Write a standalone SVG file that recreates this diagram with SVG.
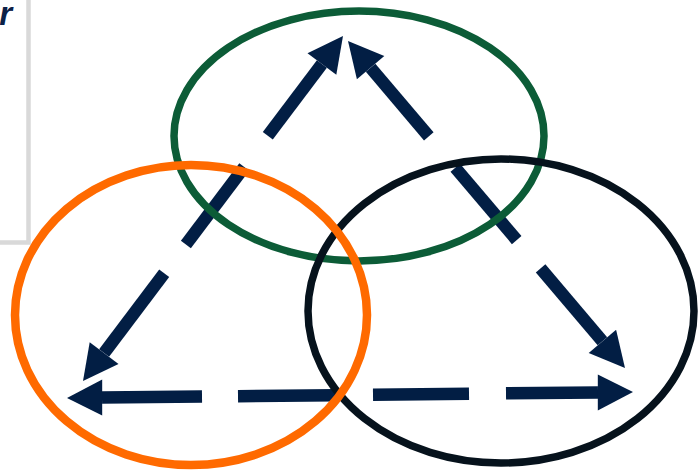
<svg xmlns="http://www.w3.org/2000/svg" width="698" height="471" viewBox="0 0 698 471">
  <style>
    .dash { stroke: #021e44; stroke-width: 12.5; stroke-linecap: butt; fill: none; }
    .head { fill: #021e44; stroke: none; }
    .ring { fill: none; }
    .lbl { font-family: "Liberation Sans", Arial, sans-serif; font-size: 33px; font-weight: bold; font-style: italic; fill: #0b2147; }
  </style>
  <rect width="698" height="471" fill="#ffffff"/>

  <g id="textbox">
    <rect x="-10" y="-10" width="38.5" height="252.5" fill="none" stroke="#d9d9d9" stroke-width="4.5"/>
    <text class="lbl" x="12" y="25" text-anchor="end">r</text>
  </g>

  <g id="connectors">
    <!-- left side (double-headed, dashed) -->
    <line class="dash" x1="321.9" y1="64" x2="267.8" y2="135.8"/>
    <line class="dash" x1="244.3" y1="167" x2="185.9" y2="244.4"/>
    <line class="dash" x1="164.2" y1="273.2" x2="104.1" y2="353.1"/>
    <polygon class="head" points="343,36 336.3,74.8 307.5,53.2"/>
    <polygon class="head" points="83,381 118.5,363.9 89.7,342.3"/>

    <!-- right side (double-headed, dashed) -->
    <line class="dash" x1="370.6" y1="67.7" x2="428.8" y2="136.4"/>
    <line class="dash" x1="455.3" y1="167.7" x2="516.7" y2="240.1"/>
    <line class="dash" x1="540.6" y1="268.4" x2="602.4" y2="341.3"/>
    <polygon class="head" points="348,41 384.3,56.1 356.9,79.3"/>
    <polygon class="head" points="625,368 616.1,329.7 588.7,352.9"/>

    <!-- bottom (double-headed, dashed) -->
    <line class="dash" x1="102" y1="397.6" x2="202" y2="396.6"/>
    <line class="dash" x1="238" y1="396.2" x2="335" y2="395.2"/>
    <line class="dash" x1="373" y1="394.8" x2="469" y2="393.7"/>
    <line class="dash" x1="506" y1="393.3" x2="598" y2="392.4"/>
    <polygon class="head" points="67,398 102.2,379.6 102.2,415.6"/>
    <polygon class="head" points="633,392 597.8,374.4 597.8,410.4"/>
  </g>

  <g id="green-ellipse">
    <ellipse class="ring" cx="359" cy="136" rx="185" ry="125" stroke="#0c5c37" stroke-width="7.5"/>
  </g>
  <g id="black-ellipse">
    <ellipse class="ring" cx="501" cy="311" rx="193" ry="152" stroke="#06121c" stroke-width="7.5"/>
  </g>
  <g id="orange-ellipse">
    <ellipse class="ring" cx="191" cy="315" rx="176" ry="150" stroke="#ff6a00" stroke-width="8.5"/>
  </g>
</svg>
